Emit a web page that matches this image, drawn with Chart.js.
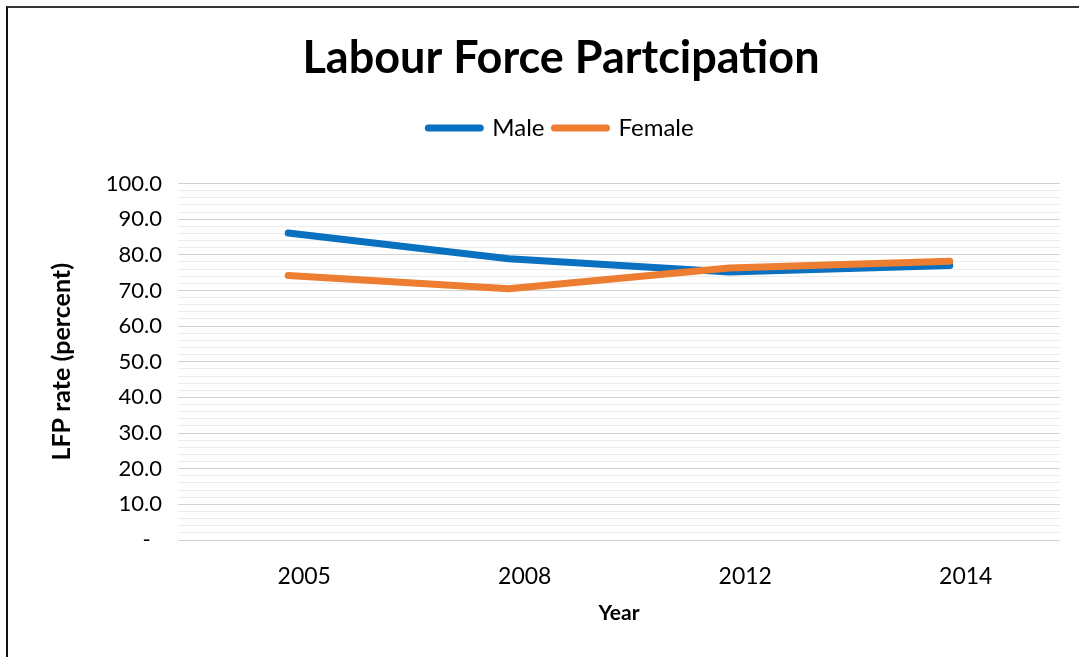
<!DOCTYPE html>
<html>
<head>
<meta charset="utf-8">
<script src="https://cdn.jsdelivr.net/npm/chart.js@4/dist/chart.umd.min.js"></script>
<style>
  html, body { margin: 0; padding: 0; background: #ffffff; }
  #wrap { position: relative; width: 1079px; height: 657px; }
  #frame {
    position: absolute; left: 6px; top: 6px; right: 0; bottom: 0;
    border-left: 2px solid #111111; border-top: 2px solid #333333;
    pointer-events: none;
  }
  canvas { position: absolute; left: 0; top: 0; }
</style>
</head>
<body>
<div id="wrap">
  <canvas id="chart" width="1079" height="657"></canvas>
  <div id="frame"></div>
</div>
<script>
// Survey years on the category axis
const years = ['2005', '2008', '2012', '2014'];

// Labour force participation rate, percent
const maleRate = [86.1, 78.9, 75.2, 77.0];
const femaleRate = [74.2, 70.5, 76.3, 78.2];

// Labels for the major ticks, 0 to 100 in steps of 10
const yTickLabels = ['-  ', '10.0', '20.0', '30.0', '40.0', '50.0', '60.0', '70.0', '80.0', '90.0', '100.0'];

const FONT = 'Lato, "Open Sans", sans-serif';

new Chart(document.getElementById('chart'), {
  type: 'line',
  data: {
    labels: years,
    datasets: [
      {
        label: 'Male',
        data: maleRate,
        borderColor: '#0a70c0',
        backgroundColor: '#0a70c0',
        borderWidth: 7,
        borderCapStyle: 'round',
        borderJoinStyle: 'round',
        pointRadius: 0,
        tension: 0,
        order: 1
      },
      {
        label: 'Female',
        data: femaleRate,
        borderColor: '#ed7d31',
        backgroundColor: '#ed7d31',
        borderWidth: 7,
        borderCapStyle: 'round',
        borderJoinStyle: 'round',
        pointRadius: 0,
        tension: 0,
        order: 0
      }
    ]
  },
  options: {
    responsive: false,
    animation: false,
    layout: { padding: { left: 62, right: 19, top: 0, bottom: 0 } },
    plugins: {
      title: {
        display: true,
        text: 'Labour Force Partcipation',
        color: '#000000',
        font: { family: FONT, size: 45, weight: 'bold', lineHeight: 1.2 },
        padding: { top: 31, bottom: 21 }
      },
      legend: {
        display: true,
        position: 'top',
        labels: {
          color: '#000000',
          font: { family: FONT, size: 24 },
          boxWidth: 52,
          boxHeight: 0,
          padding: 10,
          sort: (a, b) => a.datasetIndex - b.datasetIndex
        }
      },
      // empty subtitle used as a spacer between the legend and the plot
      subtitle: {
        display: true,
        text: '',
        weight: 500,
        font: { size: 10, lineHeight: 1.2 },
        padding: { top: 21.5, bottom: 0 }
      },
      tooltip: { enabled: false }
    },
    scales: {
      x: {
        offset: true,
        grid: { display: false },
        border: { display: false },
        ticks: {
          color: '#000000',
          font: { family: FONT, size: 23 },
          padding: 15,
          labelOffset: 16
        },
        title: {
          display: true,
          text: 'Year',
          color: '#000000',
          font: { family: FONT, size: 21, weight: 'bold', lineHeight: 1.2 },
          padding: { top: 0, bottom: 31 }
        },
        afterFit: (scale) => { scale.height = 117; }
      },
      y: {
        min: 0,
        max: 100,
        grid: {
          drawTicks: false,
          lineWidth: 1,
          color: (ctx) => (ctx.tick && ctx.tick.value % 10 === 0) ? '#d2d2d2' : '#ececec'
        },
        border: { display: false },
        ticks: {
          stepSize: 2,
          autoSkip: false,
          color: '#000000',
          font: { family: FONT, size: 22 },
          padding: 16,
          callback: (value) => (value % 10 === 0) ? yTickLabels[value / 10] : ''
        },
        title: {
          display: true,
          text: 'LFP rate (percent)',
          color: '#000000',
          font: { family: FONT, size: 25, weight: 'bold', lineHeight: 1.2 },
          padding: { top: -15, bottom: 0 }
        },
        afterFit: (scale) => { scale.width = 116; }
      }
    }
  }
});
</script>
</body>
</html>
